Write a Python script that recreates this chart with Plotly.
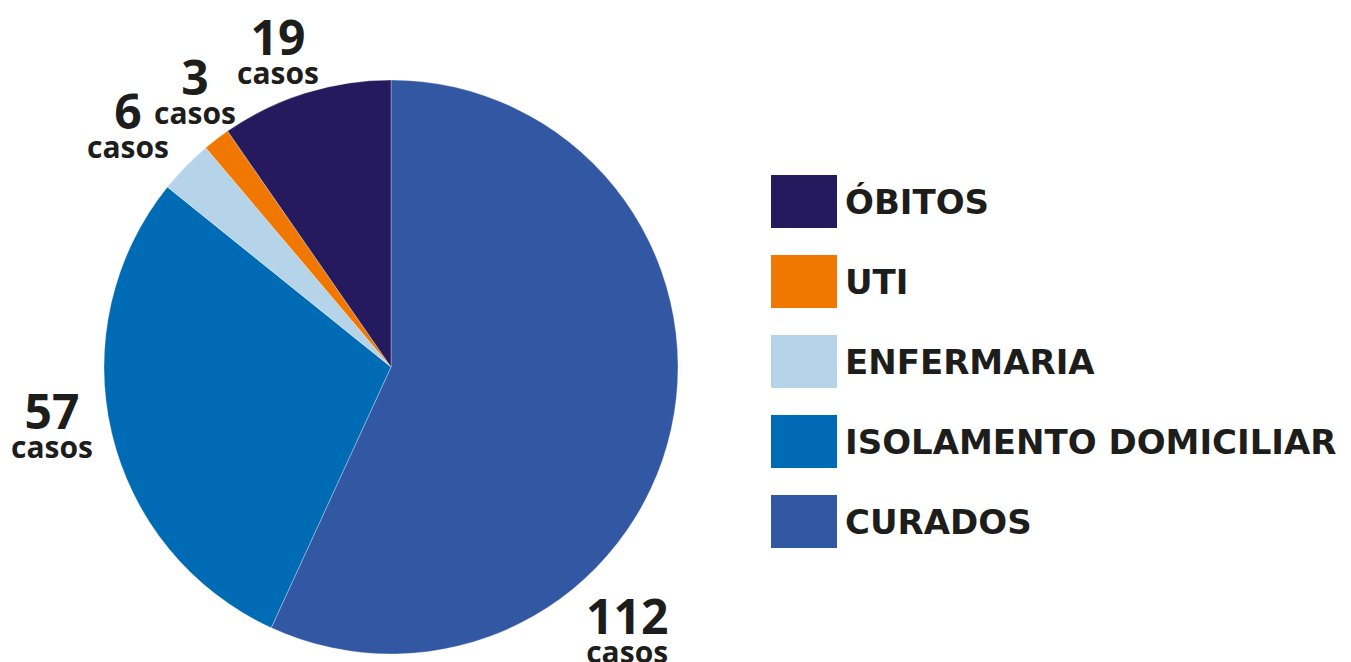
import math
import plotly.graph_objects as go

categories = ["ÓBITOS", "UTI", "ENFERMARIA", "ISOLAMENTO DOMICILIAR", "CURADOS"]
values = [19, 3, 6, 57, 112]
colors = ["#261a5f", "#f07800", "#b5d3e9", "#006bb5", "#3358a3"]
unit_label = "casos"

W, H = 1351, 662
OFF = 8  # page body margin
LABEL_FONT = "Open Sans"
LEGEND_FONT = "DejaVu Sans"
TXT = "#1d1d1b"

def px_x(x):
    return (x - OFF) / W

def px_y(y):
    return 1 - (y - OFF) / H

cx, cy, r = 391, 367, 287

# pie drawn clockwise from 12 o'clock: reverse legend order
pie_labels = categories[::-1]
pie_values = values[::-1]
pie_colors = colors[::-1]

fig = go.Figure()
fig.add_trace(go.Pie(
    labels=pie_labels,
    values=pie_values,
    sort=False,
    direction="clockwise",
    rotation=0,
    automargin=False,
    marker=dict(colors=pie_colors, line=dict(color="rgba(255,255,255,0.5)", width=0.6)),
    textinfo="none",
    domain=dict(x=[px_x(cx - r), px_x(cx + r)], y=[px_y(cy + r), px_y(cy - r)]),
    showlegend=False,
    hoverinfo="label+value",
))

# value labels placed around the pie from each slice's mid angle
label_nudge = {"CURADOS": (35.5, 352), "ISOLAMENTO DOMICILIAR": (4, 343),
               "ENFERMARIA": (-1.4, 359), "UTI": (2.3, 341), "ÓBITOS": (-2.1, 338)}
total = sum(pie_values)
acc = 0.0
for lab, val in zip(pie_labels, pie_values):
    mid = (acc + val / 2) / total * 360
    acc += val
    dth, dist = label_nudge[lab]
    th = math.radians(mid + dth)
    lx = cx + dist * math.sin(th)
    ly = cy - dist * math.cos(th)
    fig.add_annotation(xref="paper", yref="paper", x=px_x(lx), y=px_y(ly),
                       xanchor="center", yanchor="middle", showarrow=False,
                       text=("<b><span style='font-size:48px'>%d</span></b><br>"
                             "<b><span style='font-size:30px'>%s</span></b>") % (val, unit_label),
                       font=dict(family=LABEL_FONT, size=22, color=TXT, weight=800))

# manual legend
box_w, box_h, pitch = 66, 53, 80
x0, y0 = 771, 175
for i, (cat, col) in enumerate(zip(categories, colors)):
    top = y0 + i * pitch
    fig.add_shape(type="rect", xref="paper", yref="paper",
                  x0=px_x(x0), x1=px_x(x0 + box_w),
                  y0=px_y(top + box_h), y1=px_y(top),
                  fillcolor=col, line=dict(width=0))
    fig.add_annotation(xref="paper", yref="paper",
                       x=px_x(x0 + box_w + 6), y=px_y(top + box_h / 2),
                       xanchor="left", yanchor="middle", showarrow=False,
                       text="<b>" + cat + "</b>",
                       font=dict(family=LEGEND_FONT, size=34, color=TXT, weight=800))

fig.update_layout(
    width=W, height=H,
    margin=dict(l=0, r=0, t=0, b=0, autoexpand=False),
    paper_bgcolor="white",
    plot_bgcolor="white",
)

fig.write_html("out.html")
